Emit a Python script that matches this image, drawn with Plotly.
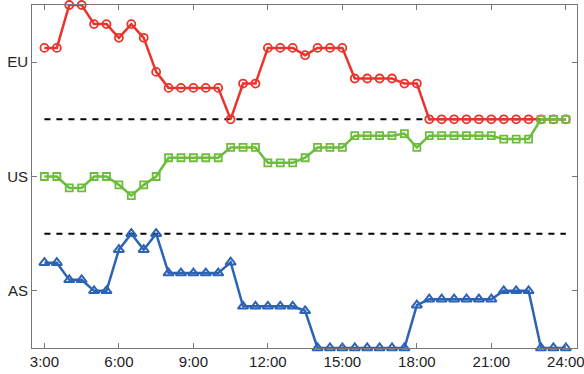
import plotly.graph_objects as go

times = [3.0, 3.5, 4.0, 4.5, 5.0, 5.5, 6.0, 6.5, 7.0, 7.5, 8.0, 8.5, 9.0, 9.5,
         10.0, 10.5, 11.0, 11.5, 12.0, 12.5, 13.0, 13.5, 14.0, 14.5, 15.0, 15.5,
         16.0, 16.5, 17.0, 17.5, 18.0, 18.5, 19.0, 19.5, 20.0, 20.5, 21.0, 21.5,
         22.0, 22.5, 23.0, 23.5, 24.0]

eu = [3.125, 3.125, 3.5, 3.5, 3.333, 3.333, 3.213, 3.333, 3.213, 2.915,
      2.775, 2.775, 2.775, 2.775, 2.775, 2.5, 2.813, 2.813, 3.125, 3.125,
      3.125, 3.061, 3.125, 3.125, 3.125, 2.857, 2.857, 2.857, 2.857, 2.813,
      2.813, 2.5, 2.5, 2.5, 2.5, 2.5, 2.5, 2.5, 2.5, 2.5, 2.5, 2.5, 2.5]

us = [2.0, 2.0, 1.9, 1.9, 2.0, 2.0, 1.927, 1.833, 1.927, 2.0,
      2.164, 2.164, 2.164, 2.164, 2.164, 2.254, 2.254, 2.254, 2.12, 2.12,
      2.12, 2.164, 2.254, 2.254, 2.254, 2.357, 2.357, 2.357, 2.357, 2.375,
      2.254, 2.357, 2.357, 2.357, 2.357, 2.357, 2.357, 2.327, 2.327, 2.327,
      2.5, 2.5, 2.5]

asia = [1.246, 1.246, 1.096, 1.096, 1.0, 1.0, 1.36, 1.5, 1.36, 1.5,
        1.155, 1.155, 1.155, 1.155, 1.155, 1.25, 0.865, 0.865, 0.865, 0.865,
        0.865, 0.825, 0.5, 0.5, 0.5, 0.5, 0.5, 0.5, 0.5, 0.5,
        0.875, 0.927, 0.927, 0.927, 0.927, 0.927, 0.927, 1.0, 1.0, 1.0,
        0.5, 0.5, 0.5]

separators = [1.5, 2.5]
sep_x = [3.0, 24.0]

x_tickvals = [3, 6, 9, 12, 15, 18, 21, 24]
x_ticktext = ["3:00", "6:00", "9:00", "12:00", "15:00", "18:00", "21:00", "24:00"]
y_tickvals = [1, 2, 3]
y_ticktext = ["AS", "US", "EU"]

RED = "#e8342a"
GREEN = "#6cbd3c"
BLUE = "#2c63b5"

fig = go.Figure()
for s in separators:
    fig.add_trace(go.Scatter(x=sep_x, y=[s, s], mode="lines",
                             line=dict(color="black", width=2, dash="6px,6px"),
                             showlegend=False, hoverinfo="skip"))

fig.add_trace(go.Scatter(x=times, y=asia, mode="lines+markers", cliponaxis=False,
                         line=dict(color=BLUE, width=2.5),
                         marker=dict(symbol="triangle-up-open", size=9,
                                     color=BLUE, line=dict(width=2, color=BLUE)),
                         showlegend=False))
fig.add_trace(go.Scatter(x=times, y=eu, mode="lines+markers", cliponaxis=False,
                         line=dict(color=RED, width=2.5),
                         marker=dict(symbol="circle-open", size=8,
                                     color=RED, line=dict(width=1.8, color=RED)),
                         showlegend=False))
fig.add_trace(go.Scatter(x=times, y=us, mode="lines+markers", cliponaxis=False,
                         line=dict(color=GREEN, width=2.5),
                         marker=dict(symbol="square-open", size=7,
                                     color=GREEN, line=dict(width=1.8, color=GREEN)),
                         showlegend=False))

axis_common = dict(showline=True, linecolor="#777777", linewidth=1, mirror="ticks",
                   ticks="inside", ticklen=5, tickcolor="#777777", showgrid=False,
                   zeroline=False, automargin=False,
                   tickfont=dict(family="Liberation Sans", size=15, color="#222222"))

fig.update_xaxes(range=[2.5, 24.45], tickvals=x_tickvals, ticktext=x_ticktext,
                 ticklabeloverflow="allow", **axis_common)
fig.update_yaxes(range=[0.5, 3.5], tickvals=y_tickvals, ticktext=y_ticktext, **axis_common)

fig.update_layout(width=584, height=374, margin=dict(l=32, r=7, t=5, b=26),
                  plot_bgcolor="white", paper_bgcolor="white", showlegend=False)

fig.write_html("out.html")
